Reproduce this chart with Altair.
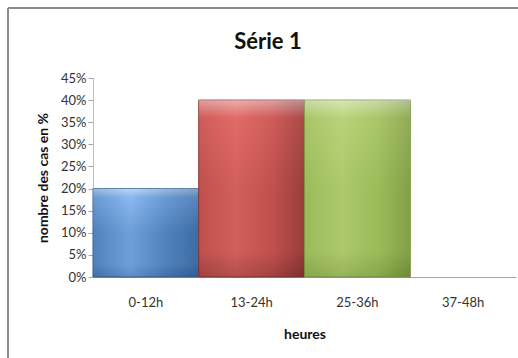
import altair as alt
import pandas as pd

categories = ["0-12h", "13-24h", "25-36h", "37-48h"]
values = [0.20, 0.40, 0.40, 0.0]
y_ticks = [0.0, 0.05, 0.10, 0.15, 0.20, 0.25, 0.30, 0.35, 0.40, 0.45]
title_text = "Série 1"

# per-bar colours: (dark edge, mid, light centre)
bar_colors = [
    ("#2f5a8c", "#4f81bd", "#8ab8ef"),
    ("#7a2f2d", "#c0504d", "#e06b67"),
    ("#6f8a3a", "#9bbb59", "#b8d47a"),
    ("#555555", "#888888", "#aaaaaa"),
]

df = pd.DataFrame({"cat": categories, "val": values})

FONT = "Lato"
x_enc = alt.X("cat:N", sort=categories, title="heures",
              scale=alt.Scale(domain=categories, paddingInner=0, paddingOuter=0),
              axis=alt.Axis(labelAngle=0, labelFontSize=13, labelColor="#333333",
                            labelPadding=19, titleFontSize=14, titleFontWeight="bold",
                            titlePadding=18, titleColor="#111111", ticks=False,
                            domainColor="#a6a6a6", labelFont=FONT, titleFont=FONT))
y_enc = alt.Y("val:Q", title="nombre des cas en %",
              scale=alt.Scale(domain=[0, 0.45], nice=False),
              axis=alt.Axis(format=".0%", values=y_ticks, tickCount=10,
                            labelOverlap=False,
                            grid=False, labelFontSize=13, labelColor="#333333",
                            tickColor="#a6a6a6", tickSize=5, domainColor="#bfbfbf",
                            titleFontSize=14, titleFontWeight="bold", titleColor="#111111",
                            titlePadding=10, labelFont=FONT, titleFont=FONT))

base = alt.Chart(df).mark_bar(opacity=0).encode(x=x_enc, y=y_enc)
layers = [base]
for cat, v, (dark, mid, light) in zip(categories, values, bar_colors):
    if v <= 0:
        continue
    sub = alt.Chart(df).transform_filter(alt.datum.cat == cat)
    horiz = sub.mark_bar(
        color=alt.Gradient(gradient="linear", x1=0, x2=1, y1=0, y2=0,
                           stops=[alt.GradientStop(color=mid, offset=0),
                                  alt.GradientStop(color=light, offset=0.35),
                                  alt.GradientStop(color=mid, offset=0.7),
                                  alt.GradientStop(color=dark, offset=1)]),
        stroke=dark, strokeWidth=1
    ).encode(x=x_enc, y=y_enc)
    vert = sub.mark_bar(
        color=alt.Gradient(gradient="linear", x1=0, x2=0, y1=0, y2=1,
                           stops=[alt.GradientStop(color="#ffffff", offset=0),
                                  alt.GradientStop(color=light, offset=0.1),
                                  alt.GradientStop(color=mid, offset=0.5),
                                  alt.GradientStop(color=mid, offset=0.85),
                                  alt.GradientStop(color=dark, offset=1)]),
        opacity=0.45
    ).encode(x=x_enc, y=y_enc)
    layers += [horiz, vert]

frame_v = alt.Chart(df).mark_rule(color="#8c8c8c", strokeWidth=2).encode(
    x=alt.value(-85), y=alt.value(-70), y2=alt.value(290))
frame_h = alt.Chart(df).mark_rule(color="#8c8c8c", strokeWidth=2).encode(
    x=alt.value(-85), x2=alt.value(430), y=alt.value(-70))
title = alt.Chart(pd.DataFrame({"t": [title_text]})).mark_text(
    fontSize=22, fontWeight="bold", font=FONT, color="#111111",
    align="center", baseline="middle"
).encode(text="t:N", x=alt.value(175), y=alt.value(-36))

chart = alt.layer(*layers, frame_v, frame_h, title).properties(
    width=423, height=199,
    autosize=alt.AutoSizeParams(type="none"),
    padding={"left": 93, "top": 78, "right": 2, "bottom": 81},
).configure(background="white", view=alt.ViewConfig(stroke=None))

chart.save("out.html", embed_options={"renderer": "svg", "actions": False})
